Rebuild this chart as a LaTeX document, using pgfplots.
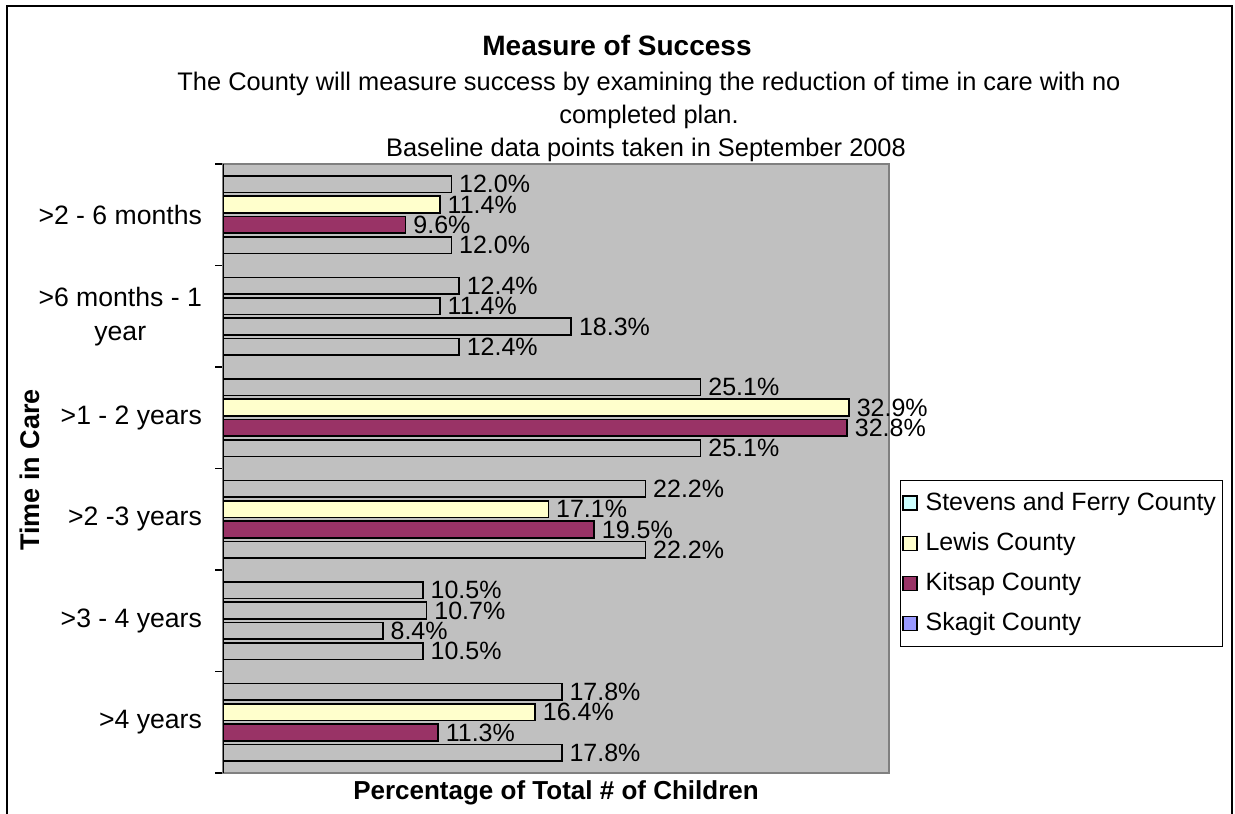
\documentclass[border=0pt]{standalone}
\usepackage{pgfplots}
\pgfplotsset{compat=1.18}
\usepackage{fontspec}
\setmainfont{Liberation Sans}
\definecolor{plotbg}{HTML}{C0C0C0}
\definecolor{lewis}{HTML}{FFFFCC}
\definecolor{kitsap}{HTML}{993366}
\definecolor{stevens}{HTML}{CCFFFF}
\definecolor{skagit}{HTML}{9999FF}
\definecolor{framegray}{HTML}{808080}
\begin{document}
\begin{tikzpicture}
\useasboundingbox (0,0) rectangle (617.5pt,-406.5pt);
\draw[line width=0.7pt] (3.5pt,-3pt) rectangle (616pt,-440pt);
\node[font=\bfseries\fontsize{14}{16}\selectfont] at (308.5pt,-22.5pt) {Measure of Success};
\node[font=\fontsize{12.7}{15}\selectfont] at (324.5pt,-42pt) {The County will measure success by examining the reduction of time in care with no};
\node[font=\fontsize{12.7}{15}\selectfont] at (324.5pt,-58.5pt) {completed plan.};
\node[font=\fontsize{12.7}{15}\selectfont] at (323pt,-75pt) {Baseline data points taken in September 2008};
\node[font=\bfseries\fontsize{13}{15}\selectfont] at (278pt,-396.5pt) {Percentage of Total \# of Children};
\node[font=\bfseries\fontsize{13.5}{16}\selectfont, rotate=90] at (15pt,-235pt) {Time in Care};
\begin{axis}[
  at={(111.5pt,-82pt)}, anchor=north west,
  width=333pt, height=304.5pt, scale only axis,
  xmin=0, xmax=35, ymin=-0.5, ymax=5.5, y dir=reverse,
  axis background/.style={fill=plotbg},
  axis line style={framegray, line width=0.8pt},
  xtick=\empty,
  ytick={0,1,2,3,4,5},
  yticklabels={{>2 - 6 months},{>6 months - 1\\year},{>1 - 2 years},{>2 -3 years},{>3 - 4 years},{>4 years}},
  yticklabel style={align=center, font=\fontsize{13.3}{17}\selectfont, xshift=-7pt},
  major tick length=0pt,
  minor ytick={-0.5,0.5,1.5,2.5,3.5,4.5,5.5},
  minor tick length=4pt,
  minor tick style={black, line width=0.6pt},
  tick align=outside,
  ytick pos=left,
  xbar, bar width=0.165, bar shift=0pt,
  point meta=explicit symbolic,
  nodes near coords,
  nodes near coords style={anchor=west, font=\fontsize{12.5}{14}\selectfont, inner sep=1.5pt, xshift=2pt},
  every axis plot/.append style={draw=black, line width=0.8pt},
  legend style={at={(1.0165,0.481)}, anchor=north west, draw=black, fill=white,
    font=\fontsize{12.5}{14}\selectfont, row sep=5.5pt, inner xsep=1pt, inner ysep=4pt,
    nodes={inner xsep=2pt},
    /tikz/every odd column/.append style={column sep=2pt}},
  legend cell align=left,
  legend image code/.code={\draw[#1, line width=0.6pt] (0pt,-3.5pt) rectangle (7pt,3.5pt);},
]
\draw[black, line width=0.8pt] (rel axis cs:0,0) -- (rel axis cs:0,1);
% Series 1 (top bar in each group)
\addplot[fill=plotbg, forget plot] coordinates {(12.0,-0.3)[12.0\%] (12.4,0.7)[12.4\%] (25.1,1.7)[25.1\%] (22.2,2.7)[22.2\%] (10.5,3.7)[10.5\%] (17.8,4.7)[17.8\%]};
% Series 2 (Lewis)
\addplot[fill=lewis, forget plot] coordinates {(11.4,-0.1)[11.4\%] (32.9,1.9)[32.9\%] (17.1,2.9)[17.1\%] (16.4,4.9)[16.4\%]};
\addplot[fill=plotbg, forget plot] coordinates {(11.4,0.9)[11.4\%] (10.7,3.9)[10.7\%]};
% Series 3 (Kitsap)
\addplot[fill=kitsap, forget plot] coordinates {(9.6,0.1)[9.6\%] (32.8,2.1)[32.8\%] (19.5,3.1)[19.5\%] (11.3,5.1)[11.3\%]};
\addplot[fill=plotbg, forget plot] coordinates {(18.3,1.1)[18.3\%] (8.4,4.1)[8.4\%]};
% Series 4 (bottom bar in each group)
\addplot[fill=plotbg, forget plot] coordinates {(12.0,0.3)[12.0\%] (12.4,1.3)[12.4\%] (25.1,2.3)[25.1\%] (22.2,3.3)[22.2\%] (10.5,4.3)[10.5\%] (17.8,5.3)[17.8\%]};
\addlegendimage{fill=stevens, draw=black}
\addlegendentry{Stevens and Ferry County}
\addlegendimage{fill=lewis, draw=black}
\addlegendentry{Lewis County}
\addlegendimage{fill=kitsap, draw=black}
\addlegendentry{Kitsap County}
\addlegendimage{fill=skagit, draw=black}
\addlegendentry{Skagit County}
\end{axis}
\end{tikzpicture}
\end{document}
